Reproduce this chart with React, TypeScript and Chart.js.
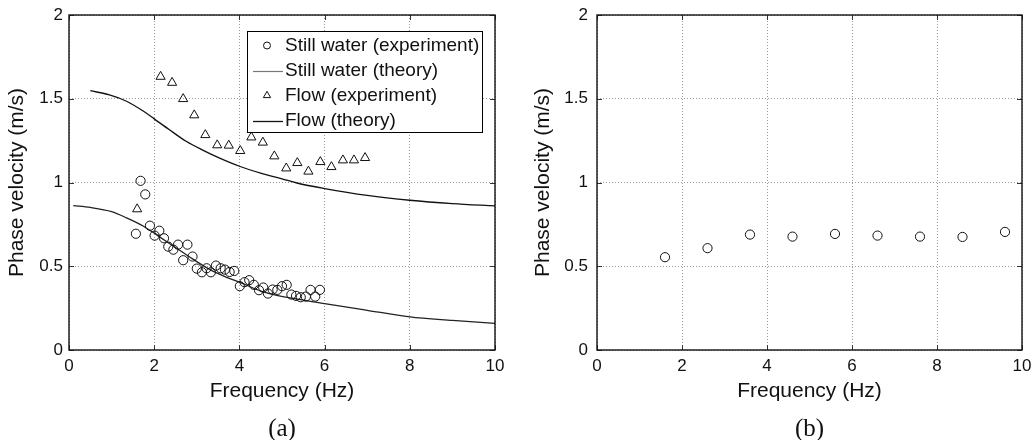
import React, { useEffect, useRef } from "react";
import { Chart, registerables } from "chart.js";

Chart.register(...registerables);

const SANS = "'Liberation Sans', Arial, Helvetica, sans-serif";
const SERIF = "'Liberation Serif', 'Times New Roman', serif";

// ---------- Panel (a) data ----------
const stillExpFreq = [
  1.57, 1.68, 1.79, 1.9, 2.01, 2.12, 2.23, 2.33, 2.45, 2.56, 2.68, 2.78, 2.9, 3.0,
  3.12, 3.23, 3.33, 3.45, 3.56, 3.66, 3.77, 3.88, 4.01, 4.12, 4.23, 4.34, 4.46,
  4.56, 4.67, 4.78, 4.89, 5.0, 5.11, 5.22, 5.33, 5.44, 5.56, 5.67, 5.78, 5.89,
];
const stillExpVel = [
  0.694, 1.01, 0.929, 0.742, 0.683, 0.712, 0.667, 0.617, 0.599, 0.629, 0.536, 0.629,
  0.558, 0.486, 0.464, 0.488, 0.464, 0.504, 0.488, 0.48, 0.466, 0.472, 0.381, 0.405,
  0.417, 0.389, 0.357, 0.373, 0.337, 0.361, 0.359, 0.381, 0.389, 0.331, 0.323, 0.315,
  0.319, 0.359, 0.319, 0.359,
];
const stillTheoryFreq = [0.1, 0.5, 1.0, 1.35, 1.75, 2.1, 2.5, 2.9, 3.3, 3.7, 4.1, 4.5, 5.1, 6.0, 7.0, 8.0, 9.0, 10.0];
const stillTheoryVel = [0.862, 0.851, 0.826, 0.789, 0.739, 0.68, 0.612, 0.544, 0.481, 0.434, 0.395, 0.352, 0.315, 0.277, 0.237, 0.198, 0.177, 0.159];

const flowExpFreq = [1.6, 2.15, 2.42, 2.68, 2.94, 3.2, 3.48, 3.75, 4.02, 4.28, 4.55, 4.82, 5.1, 5.36, 5.62, 5.9, 6.16, 6.43, 6.69, 6.95];
const flowExpVel = [0.841, 1.632, 1.596, 1.499, 1.402, 1.284, 1.223, 1.221, 1.189, 1.27, 1.239, 1.157, 1.085, 1.117, 1.066, 1.123, 1.093, 1.133, 1.133, 1.147];
const flowTheoryFreq = [0.5, 0.95, 1.35, 1.75, 2.0, 2.35, 2.75, 3.15, 3.55, 4.0, 4.5, 5.0, 5.35, 6.0, 7.0, 8.0, 9.0, 10.0];
const flowTheoryVel = [1.548, 1.523, 1.485, 1.425, 1.38, 1.316, 1.246, 1.192, 1.144, 1.097, 1.056, 1.022, 0.997, 0.964, 0.923, 0.894, 0.874, 0.86];

// ---------- Panel (b) data ----------
const bFreq = [1.6, 2.6, 3.6, 4.6, 5.6, 6.6, 7.6, 8.6, 9.6];
const bVel = [0.554, 0.608, 0.689, 0.677, 0.693, 0.683, 0.677, 0.675, 0.705];

// ---------- Axis settings ----------
const freqRange = [0, 10];
const freqStep = 2;
const freqTickLabels = ["0", "2", "4", "6", "8", "10"];
const velRange = [0, 2];
const velStep = 0.5;
const velTickLabels = ["0", "0.5", "1", "1.5", "2"];
const xTitle = "Frequency (Hz)";
const yTitle = "Phase velocity (m/s)";
const seriesLabels = ["Still water (experiment)", "Still water (theory)", "Flow (experiment)", "Flow (theory)"];

const pts = (xs: number[], ys: number[]) => xs.map((x, i) => ({ x, y: ys[i] }));

const framePlugin = {
  id: "frame",
  afterDatasetsDraw(chart: any, _args: any, opts: any) {
    const { ctx, chartArea: a, scales } = chart;
    ctx.save();
    const line = (x1: number, y1: number, x2: number, y2: number) => {
      ctx.beginPath();
      ctx.moveTo(x1, y1);
      ctx.lineTo(x2, y2);
      ctx.stroke();
    };
    // inward tick marks
    ctx.strokeStyle = "#333";
    ctx.lineWidth = 1;
    const L = 5;
    scales.x.ticks.forEach((t: any) => {
      const px = Math.round(scales.x.getPixelForValue(t.value)) + 0.5;
      line(px, a.bottom, px, a.bottom - L);
      line(px, a.top, px, a.top + L);
    });
    scales.y.ticks.forEach((t: any) => {
      const py = Math.round(scales.y.getPixelForValue(t.value)) + 0.5;
      line(a.left, py, a.left + L, py);
      line(a.right, py, a.right - L, py);
    });
    // frame
    ctx.strokeStyle = "#111";
    ctx.lineWidth = 1.4;
    ctx.strokeRect(a.left, a.top, a.right - a.left, a.bottom - a.top);

    // legend
    const lg = opts.legend;
    if (lg) {
      ctx.fillStyle = "#fff";
      ctx.fillRect(lg.x1, lg.y1, lg.x2 - lg.x1, lg.y2 - lg.y1);
      ctx.strokeStyle = "#000";
      ctx.lineWidth = 1;
      ctx.strokeRect(lg.x1 + 0.5, lg.y1 + 0.5, lg.x2 - lg.x1, lg.y2 - lg.y1);
      chart.data.datasets.forEach((ds: any, i: number) => {
        const y = lg.row0 + i * lg.step;
        ctx.strokeStyle = ds.legendColor || ds.borderColor;
        if (ds.showLine) {
          ctx.lineWidth = ds.legendLineWidth || 1;
          line(lg.lineX1, Math.round(y) + 0.5, lg.lineX2, Math.round(y) + 0.5);
        } else {
          ctx.lineWidth = 1;
          const r = 3.5;
          ctx.beginPath();
          if (ds.pointStyle === "triangle") {
            const rr = 4.2;
            ctx.moveTo(lg.markX, y - rr);
            ctx.lineTo(lg.markX + rr * 0.866, y + rr * 0.5);
            ctx.lineTo(lg.markX - rr * 0.866, y + rr * 0.5);
            ctx.closePath();
          } else {
            ctx.arc(lg.markX, y, r, 0, Math.PI * 2);
          }
          ctx.stroke();
        }
        ctx.fillStyle = "#111";
        ctx.font = `19px ${SANS}`;
        ctx.textAlign = "left";
        ctx.textBaseline = "middle";
        ctx.fillText(ds.label, lg.textX, y);
      });
    }
    // panel label
    ctx.fillStyle = "#111";
    ctx.font = `25px ${SERIF}`;
    ctx.textAlign = "center";
    ctx.textBaseline = "alphabetic";
    ctx.fillText(opts.panel, (a.left + a.right) / 2, 436);
    ctx.restore();
  },
};

function makeScales(yWidth: number, yTitlePad: number, yTickPad: number) {
  const tickFont = { family: SANS, size: 17 };
  const titleFont = { family: SANS, size: 21 };
  const grid = { color: "#9a9a9a", lineWidth: 1, drawTicks: false };
  const border = { display: false, dash: [1, 2] };
  return {
    x: {
      type: "linear",
      min: freqRange[0],
      max: freqRange[1],
      ticks: {
        stepSize: freqStep,
        padding: 6,
        color: "#111",
        font: tickFont,
        maxRotation: 0,
        autoSkip: false,
        callback: (_v: any, i: number) => freqTickLabels[i],
      },
      grid,
      border,
      title: { display: true, text: xTitle, color: "#111", font: titleFont, padding: { top: 0, bottom: 36 } },
      afterFit: (s: any) => {
        s.height = 90;
        s.paddingLeft = 0;
        s.paddingRight = 0;
      },
    },
    y: {
      type: "linear",
      min: velRange[0],
      max: velRange[1],
      ticks: {
        stepSize: velStep,
        padding: yTickPad,
        color: "#111",
        font: tickFont,
        callback: (_v: any, i: number) => velTickLabels[i],
      },
      grid,
      border,
      title: { display: true, text: yTitle, color: "#111", font: titleFont, padding: { top: yTitlePad, bottom: 0 } },
      afterFit: (s: any) => {
        s.width = yWidth;
        s.paddingTop = 0;
        s.paddingBottom = 0;
      },
    },
  };
}

export default function App() {
  const refA = useRef<HTMLCanvasElement>(null);
  const refB = useRef<HTMLCanvasElement>(null);

  useEffect(() => {
    const common = {
      responsive: false,
      animation: false,
      events: [],
    };
    const chartA = new Chart(refA.current as HTMLCanvasElement, {
      type: "scatter",
      data: {
        datasets: [
          {
            label: seriesLabels[0],
            data: pts(stillExpFreq, stillExpVel),
            showLine: false,
            pointStyle: "circle",
            pointRadius: 4.6,
            borderColor: "#111",
            backgroundColor: "rgba(0,0,0,0)",
            borderWidth: 1,
          },
          {
            label: seriesLabels[1],
            data: pts(stillTheoryFreq, stillTheoryVel),
            showLine: true,
            pointRadius: 0,
            borderColor: "#222",
            legendColor: "#777",
            borderWidth: 1.3,
            legendLineWidth: 1.2,
            cubicInterpolationMode: "monotone",
            fill: false,
          },
          {
            label: seriesLabels[2],
            data: pts(flowExpFreq, flowExpVel),
            showLine: false,
            pointStyle: "triangle",
            pointRadius: 5.3,
            borderColor: "#111",
            backgroundColor: "rgba(0,0,0,0)",
            borderWidth: 1,
          },
          {
            label: seriesLabels[3],
            data: pts(flowTheoryFreq, flowTheoryVel),
            showLine: true,
            pointRadius: 0,
            borderColor: "#111",
            borderWidth: 1.3,
            legendLineWidth: 1.3,
            cubicInterpolationMode: "monotone",
            fill: false,
          },
        ] as any,
      },
      options: {
        ...common,
        layout: { padding: { left: 0, top: 15, right: 25, bottom: 0 } },
        scales: makeScales(69, 5, 6) as any,
        plugins: {
          legend: { display: false },
          tooltip: { enabled: false },
          frame: {
            panel: "(a)",
            legend: {
              x1: 247, y1: 31, x2: 482, y2: 132,
              row0: 45.5, step: 25,
              markX: 267, lineX1: 253, lineX2: 283, textX: 285,
            },
          },
        } as any,
      },
      plugins: [framePlugin],
    } as any);

    const chartB = new Chart(refB.current as HTMLCanvasElement, {
      type: "scatter",
      data: {
        datasets: [
          {
            label: seriesLabels[0],
            data: pts(bFreq, bVel),
            showLine: false,
            pointStyle: "circle",
            pointRadius: 4.6,
            borderColor: "#111",
            backgroundColor: "rgba(0,0,0,0)",
            borderWidth: 1,
          },
        ] as any,
      },
      options: {
        ...common,
        layout: { padding: { left: 0, top: 15, right: 11, bottom: 0 } },
        scales: makeScales(77, 11, 9) as any,
        plugins: {
          legend: { display: false },
          tooltip: { enabled: false },
          frame: { panel: "(b)" },
        } as any,
      },
      plugins: [framePlugin],
    } as any);

    return () => {
      chartA.destroy();
      chartB.destroy();
    };
  }, []);

  return (
    <div style={{ position: "absolute", left: 0, top: 0, width: 1033, height: 440, background: "#fff" }}>
      <canvas ref={refA} width={520} height={440} style={{ position: "absolute", left: 0, top: 0 }} />
      <canvas ref={refB} width={513} height={440} style={{ position: "absolute", left: 520, top: 0 }} />
    </div>
  );
}
